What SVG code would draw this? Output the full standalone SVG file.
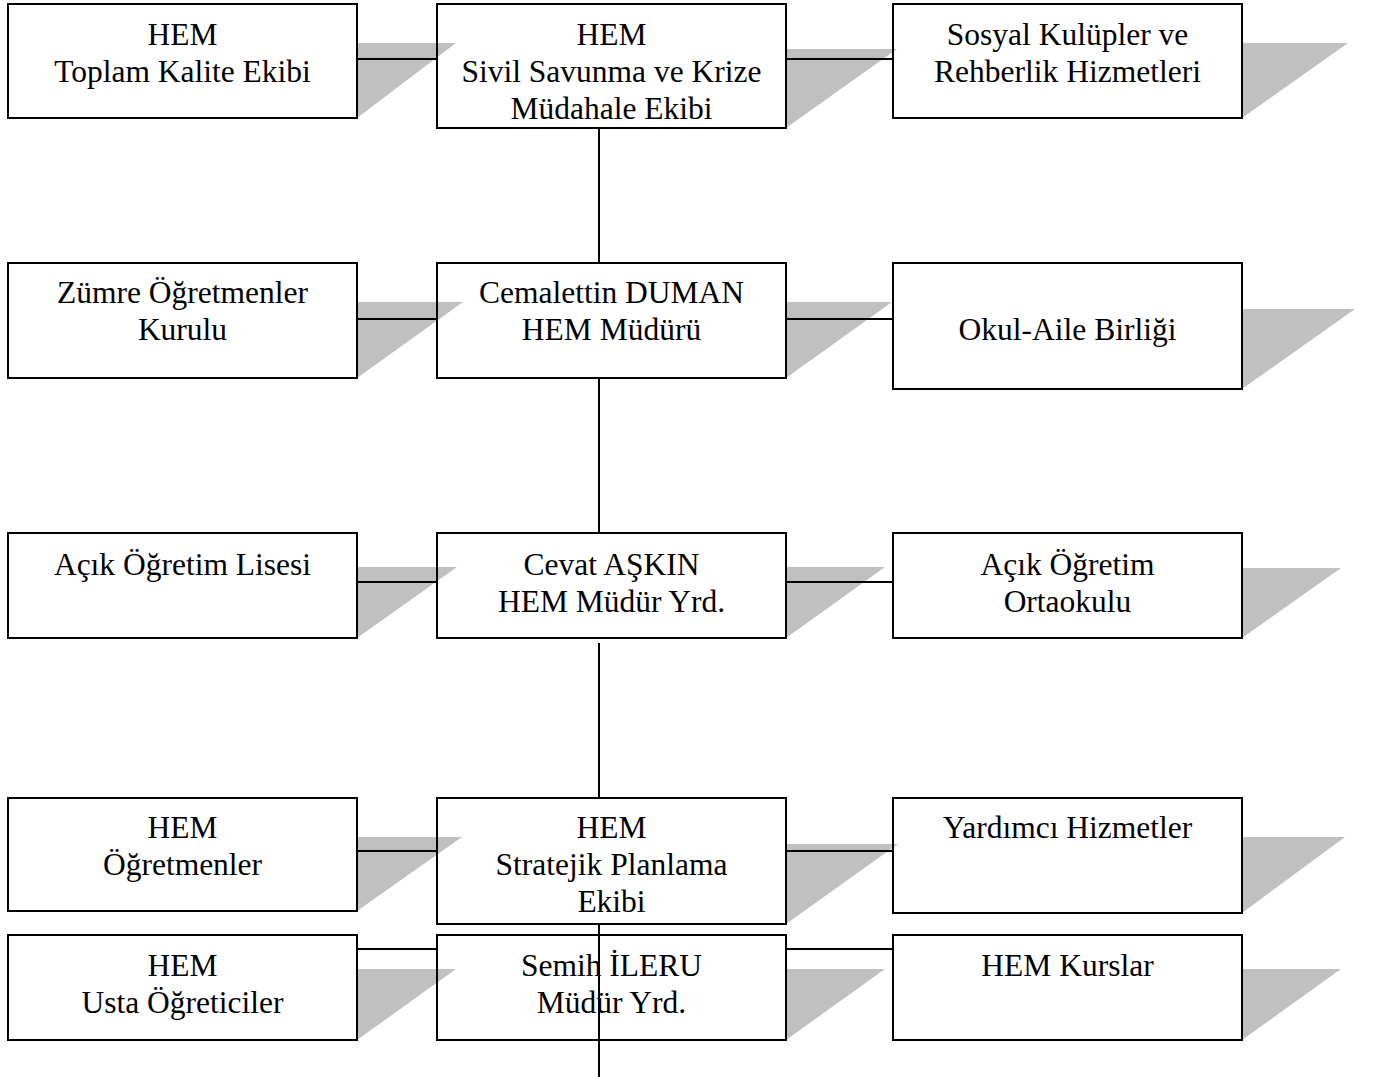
<svg xmlns="http://www.w3.org/2000/svg" width="1375" height="1077" viewBox="0 0 1375 1077">
<style>
.bg{fill:#ffffff}
.box{fill:none;stroke:#000;stroke-width:2}
.sh{fill:#c0c0c0}
.t{font-family:"Liberation Serif","Times New Roman",serif;font-size:31.5px;fill:#000;text-anchor:middle}
.c{stroke:#000;stroke-width:2;fill:none}
</style>
<rect class="bg" x="0" y="0" width="1375" height="1077"/>
<g id="shadows">
<polygon class="sh" points="357,43 456,43 357,118"/>
<polygon class="sh" points="786,49 897,49 786,128"/>
<polygon class="sh" points="1242,43 1348,43 1242,118"/>
<polygon class="sh" points="357,302 463,302 357,378"/>
<polygon class="sh" points="786,302 892,302 786,378"/>
<polygon class="sh" points="1242,309 1355,309 1242,389"/>
<polygon class="sh" points="357,567 457,567 357,638"/>
<polygon class="sh" points="786,567 885,567 786,638"/>
<polygon class="sh" points="1242,568 1341,568 1242,638"/>
<polygon class="sh" points="357,837 462,837 357,911"/>
<polygon class="sh" points="786,844 898,844 786,924"/>
<polygon class="sh" points="1242,837 1345,837 1242,913"/>
<polygon class="sh" points="357,969 456,969 357,1040"/>
<polygon class="sh" points="786,969 885,969 786,1040"/>
<polygon class="sh" points="1242,969 1341,969 1242,1040"/>
</g>
<g id="node-toplam-kalite">
<rect class="box" x="8" y="4" width="349" height="114"/>
<text class="t" x="182.5" y="45">HEM</text>
<text class="t" x="182.5" y="82">Toplam Kalite Ekibi</text>
</g>
<g id="node-sivil-savunma">
<rect class="box" x="437" y="4" width="349" height="124"/>
<text class="t" x="611.5" y="45">HEM</text>
<text class="t" x="611.5" y="82">Sivil Savunma ve Krize</text>
<text class="t" x="611.5" y="119">Müdahale Ekibi</text>
</g>
<g id="node-sosyal-kulupler">
<rect class="box" x="893" y="4" width="349" height="114"/>
<text class="t" x="1067.5" y="45">Sosyal Kulüpler ve</text>
<text class="t" x="1067.5" y="82">Rehberlik Hizmetleri</text>
</g>
<g id="node-zumre">
<rect class="box" x="8" y="263" width="349" height="115"/>
<text class="t" x="182.5" y="303">Zümre Öğretmenler</text>
<text class="t" x="182.5" y="340">Kurulu</text>
</g>
<g id="node-mudur">
<rect class="box" x="437" y="263" width="349" height="115"/>
<text class="t" x="611.5" y="303">Cemalettin DUMAN</text>
<text class="t" x="611.5" y="340">HEM Müdürü</text>
</g>
<g id="node-okul-aile">
<rect class="box" x="893" y="263" width="349" height="126"/>
<text class="t" x="1067.5" y="340">Okul-Aile Birliği</text>
</g>
<g id="node-aol">
<rect class="box" x="8" y="533" width="349" height="105"/>
<text class="t" x="182.5" y="575">Açık Öğretim Lisesi</text>
</g>
<g id="node-mudur-yrd-cevat">
<rect class="box" x="437" y="533" width="349" height="105"/>
<text class="t" x="611.5" y="575">Cevat AŞKIN</text>
<text class="t" x="611.5" y="612">HEM Müdür Yrd.</text>
</g>
<g id="node-aoo">
<rect class="box" x="893" y="533" width="349" height="105"/>
<text class="t" x="1067.5" y="575">Açık Öğretim</text>
<text class="t" x="1067.5" y="612">Ortaokulu</text>
</g>
<g id="node-ogretmenler">
<rect class="box" x="8" y="798" width="349" height="113"/>
<text class="t" x="182.5" y="838">HEM</text>
<text class="t" x="182.5" y="875">Öğretmenler</text>
</g>
<g id="node-stratejik">
<rect class="box" x="437" y="798" width="349" height="126"/>
<text class="t" x="611.5" y="838">HEM</text>
<text class="t" x="611.5" y="875">Stratejik Planlama</text>
<text class="t" x="611.5" y="912">Ekibi</text>
</g>
<g id="node-yardimci">
<rect class="box" x="893" y="798" width="349" height="115"/>
<text class="t" x="1067.5" y="838">Yardımcı Hizmetler</text>
</g>
<g id="node-usta">
<rect class="box" x="8" y="935" width="349" height="105"/>
<text class="t" x="182.5" y="976">HEM</text>
<text class="t" x="182.5" y="1013">Usta Öğreticiler</text>
</g>
<g id="node-mudur-yrd-semih">
<rect class="box" x="437" y="935" width="349" height="105"/>
<text class="t" x="611.5" y="976">Semih İLERU</text>
<text class="t" x="611.5" y="1013">Müdür Yrd.</text>
</g>
<g id="node-kurslar">
<rect class="box" x="893" y="935" width="349" height="105"/>
<text class="t" x="1067.5" y="976">HEM Kurslar</text>
</g>
<g id="connectors">
<line class="c" x1="357" y1="59" x2="437" y2="59"/>
<line class="c" x1="786" y1="59" x2="893" y2="59"/>
<line class="c" x1="357" y1="319" x2="437" y2="319"/>
<line class="c" x1="786" y1="319" x2="893" y2="319"/>
<line class="c" x1="357" y1="582" x2="437" y2="582"/>
<line class="c" x1="786" y1="582" x2="893" y2="582"/>
<line class="c" x1="357" y1="851" x2="437" y2="851"/>
<line class="c" x1="786" y1="851" x2="893" y2="851"/>
<line class="c" x1="357" y1="949" x2="437" y2="949"/>
<line class="c" x1="786" y1="949" x2="893" y2="949"/>
<line class="c" x1="599" y1="128" x2="599" y2="263"/>
<line class="c" x1="599" y1="378" x2="599" y2="533"/>
<line class="c" x1="599" y1="643" x2="599" y2="798"/>
<line class="c" x1="599" y1="924" x2="599" y2="1077"/>
</g>
</svg>
